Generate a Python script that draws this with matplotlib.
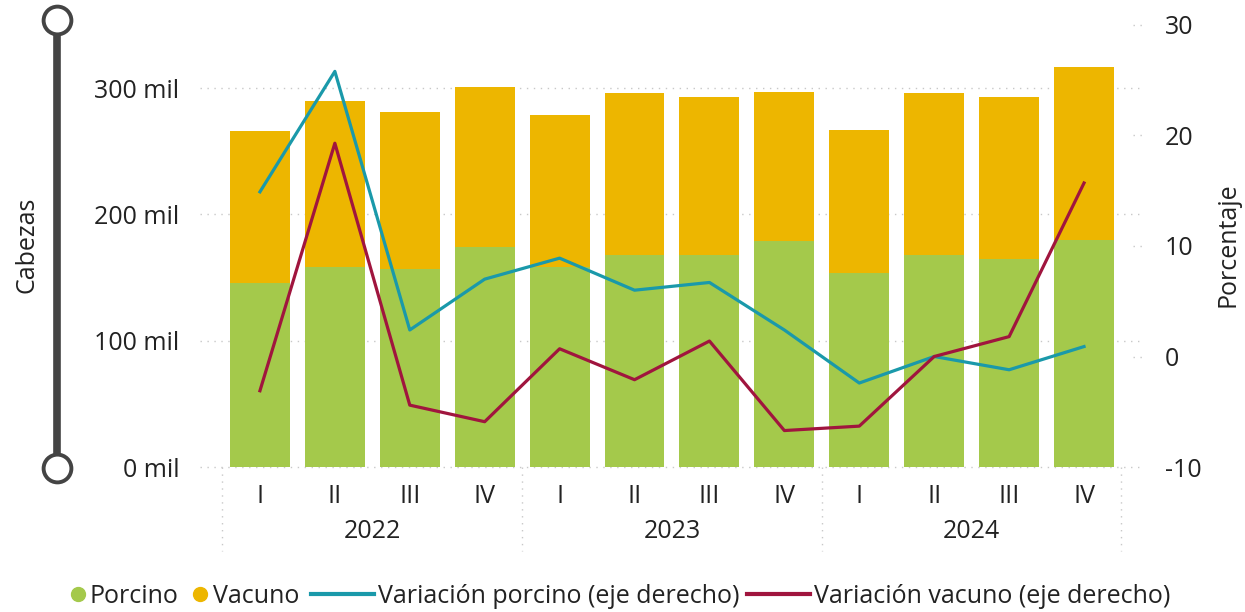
import matplotlib.pyplot as plt
import matplotlib.transforms as mtransforms
from matplotlib.lines import Line2D
import numpy as np

plt.rcParams['font.family'] = ['Open Sans', 'DejaVu Sans']
plt.rcParams['axes.unicode_minus'] = False

# datos (miles de cabezas y porcentaje)
anios = ['2022', '2023', '2024']
trimestres = ['I', 'II', 'III', 'IV'] * 3
porcino = [145.7, 158.4, 156.8, 174.2, 158.0, 167.9, 167.9, 179.0, 153.6, 167.9, 164.7, 179.7]
total = [266.0, 289.8, 281.0, 300.9, 278.7, 296.0, 293.0, 297.0, 266.8, 296.0, 293.0, 316.7]
vacuno = [t - p for t, p in zip(total, porcino)]
var_porcino = [14.9, 25.8, 2.4, 7.0, 8.9, 6.0, 6.7, 2.4, -2.4, 0.0, -1.2, 0.9]
var_vacuno = [-3.1, 19.3, -4.4, -5.9, 0.7, -2.1, 1.4, -6.7, -6.3, 0.0, 1.8, 15.7]

c_porcino = '#A4C94B'
c_vacuno = '#EDB600'
c_vporc = '#1A99AA'
c_vvac = '#A0153E'
gris = '#C8C8C8'
fs = 18

fig = plt.figure(figsize=(12.45, 6.12), dpi=100)
ax = fig.add_axes([0.1787, 0.2369, 0.7221, 0.7223])
ax2 = ax.twinx()

x = np.arange(len(porcino))
ax.bar(x, porcino, width=0.8, color=c_porcino, zorder=2)
ax.bar(x, vacuno, width=0.8, bottom=porcino, color=c_vacuno, zorder=2)
ax.set_xlim(-0.5, len(x) - 0.5)
ax.set_ylim(0, 350)
ax.set_yticks([0, 100, 200, 300])
ax.set_yticklabels([f'{v} mil' for v in [0, 100, 200, 300]])

ax2.plot(x, var_porcino, color=c_vporc, lw=2.3)
ax2.plot(x, var_vacuno, color=c_vvac, lw=2.3)
ax2.set_ylim(-10, 30)
ax2.set_yticks([-10, 0, 10, 20, 30])

for a in (ax, ax2):
    for s in a.spines.values():
        s.set_visible(False)
    a.tick_params(length=0, labelsize=fs, colors='#222222')
ax.tick_params(axis='y', pad=31)
ax2.tick_params(axis='y', pad=31)
ax.set_xticks(x)
ax.set_xticklabels(trimestres)
ax.tick_params(axis='x', pad=12)

# rejilla punteada
tr = mtransforms.blended_transform_factory(ax.transAxes, ax.transData)
for v in [0, 100, 200, 300]:
    ax.plot([-0.025, 1.023], [v, v], transform=tr, color=gris, lw=1,
            ls=(0, (1, 4)), clip_on=False, zorder=1)
tr2 = mtransforms.blended_transform_factory(ax2.transAxes, ax2.transData)
for v in [0, 10, 20, 30]:
    ax2.plot([1.013, 1.027], [v, v], transform=tr2, color=gris, lw=1,
             ls=(0, (1, 4)), clip_on=False)

# separadores de años y etiquetas
trx = mtransforms.blended_transform_factory(ax.transData, ax.transAxes)
for b in [-0.5, 3.5, 7.5, 11.5]:
    ax.plot([b, b], [0, -0.19], transform=trx, color=gris, lw=1,
            ls=(0, (1, 4)), clip_on=False)
for i, a in enumerate(anios):
    ax.text(4 * i + 1.5, -0.147, a, transform=trx, ha='center', va='center',
            fontsize=fs, color='#222222')

fig.text(0.022, 0.6, 'Cabezas', rotation=90, ha='center', va='center',
         fontsize=fs, color='#222222')
fig.text(0.986, 0.6, 'Porcentaje', rotation=90, ha='center', va='center',
         fontsize=fs, color='#222222')

# control deslizante a la izquierda
xs = 57 / 1245
y_top = 1 - 20 / 612
y_bot = 1 - 468 / 612
fig.add_artist(Line2D([xs, xs], [y_top, y_bot], color='#444444', lw=5.5,
                      transform=fig.transFigure))
fig.add_artist(Line2D([xs, xs], [y_top, y_bot], ls='none', marker='o', ms=20,
                      mfc='white', mec='#444444', mew=2.8,
                      transform=fig.transFigure))

# leyenda: círculos para barras, líneas para variaciones
h_barras = [
    Line2D([], [], ls='none', marker='o', ms=10, color=c_porcino),
    Line2D([], [], ls='none', marker='o', ms=10, color=c_vacuno),
]
h_lineas = [
    Line2D([], [], color=c_vporc, lw=3),
    Line2D([], [], color=c_vvac, lw=3),
]
fig.legend(h_barras, ['Porcino', 'Vacuno'], loc='center left',
           bbox_to_anchor=(70 / 1245, 0.025), ncol=2, frameon=False,
           fontsize=fs, handlelength=0.6, handletextpad=0.2,
           columnspacing=0.55, borderpad=0, borderaxespad=0,
           labelcolor='#222222')
fig.legend(h_lineas, ['Variación porcino (eje derecho)',
                      'Variación vacuno (eje derecho)'], loc='center left',
           bbox_to_anchor=(311 / 1245, 0.025), ncol=2, frameon=False,
           fontsize=fs, handlelength=2.5, handletextpad=0.2,
           columnspacing=0.28, borderpad=0, borderaxespad=0,
           labelcolor='#222222')

fig.savefig('out.png', dpi=100)
